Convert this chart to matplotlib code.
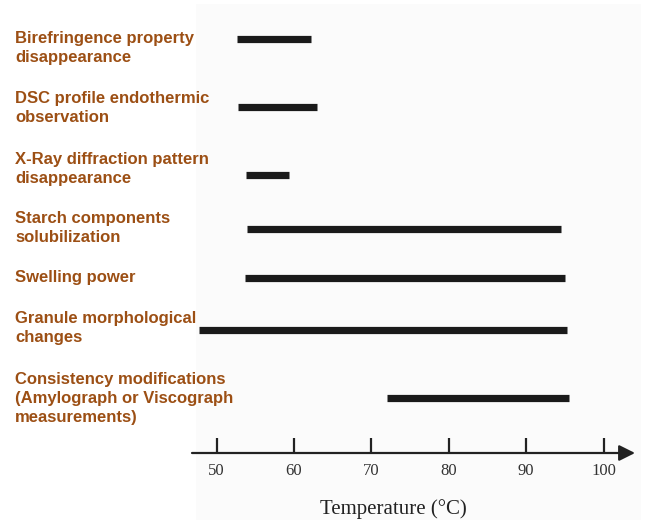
"""
Faixas de temperatura dos eventos de gelatinizacao do amido.
Uso: python plot.py
"""
import matplotlib.pyplot as plt
from matplotlib.patches import Rectangle
from matplotlib.transforms import blended_transform_factory

# --- dados ---
processos = [
    "Birefringence property\ndisappearance",
    "DSC profile endothermic\nobservation",
    "X-Ray diffraction pattern\ndisappearance",
    "Starch components\nsolubilization",
    "Swelling power",
    "Granule morphological\nchanges",
    "Consistency modifications\n(Amylograph or Viscograph\nmeasurements)",
]
t_inicio = [52.7, 52.8, 53.8, 54.0, 53.7, 47.7, 72.0]
t_fim = [62.2, 63.0, 59.4, 94.5, 95.0, 95.3, 95.5]
ticks = [50, 60, 70, 80, 90, 100]

# layout vertical (linhas irregulares, como no original): posicao da barra e
# da linha de base da ultima linha do rotulo, em unidades de "linha"
pos_barra = [0.57, 1.57, 2.57, 3.37, 4.09, 4.85, 5.85]
pos_rotulo = [0.907, 1.799, 2.687, 3.563, 4.151, 5.034, 6.21]

W, H = 646, 520
fig = plt.figure(figsize=(W / 100, H / 100), dpi=100)

# fundo levemente cinza da pagina escaneada
fig.patches.append(Rectangle((196 / W, 0), 445 / W, 516 / H,
                             transform=fig.transFigure, facecolor="#fbfbfb",
                             edgecolor="none", zorder=-10))

ax = fig.add_axes([192 / W, (H - 453) / H, 443 / W, 453 / H])
ax.patch.set_alpha(0)
ax.set_xlim(46.83, 104.07)
ax.set_ylim(453 / 68, 0)

ax.hlines(pos_barra, t_inicio, t_fim, colors="#1a1a1a", linewidth=5.2,
          capstyle="butt")

for s in ["top", "right", "left", "bottom"]:
    ax.spines[s].set_visible(False)
ax.annotate("", xy=(1, 0), xytext=(0, 0), xycoords="axes fraction",
            arrowprops=dict(arrowstyle="-|>", lw=1.6, color="#222222",
                            mutation_scale=24, shrinkA=0, shrinkB=0))
ax.set_yticks([])
ax.set_xticks(ticks)
ax.set_xticklabels([str(t) for t in ticks], family="Liberation Serif",
                   fontsize=12, color="#333333")
ax.tick_params(axis="x", direction="in", length=11, width=1.6,
               color="#222222", pad=7)

# rotulos a esquerda
trans = blended_transform_factory(fig.transFigure, ax.transData)
for nome, y in zip(processos, pos_rotulo):
    ax.text(15 / W, y, nome, transform=trans, ha="left", va="baseline",
            fontsize=12, fontweight="bold", color="#9c4f14",
            family="Liberation Sans", linespacing=1.33, clip_on=False)

fig.text(393 / W, (H - 514) / H, "Temperature (\u00b0C)", ha="center",
         va="baseline", family="Liberation Serif", fontsize=15,
         color="#222222")

plt.savefig("out.png", dpi=100)
print("Salvo: out.png")
